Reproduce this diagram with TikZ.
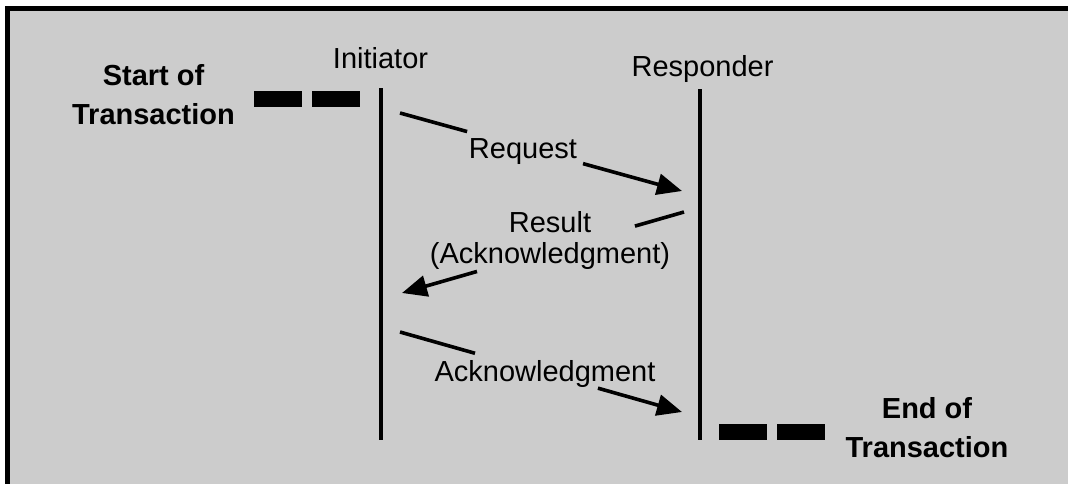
\documentclass[tikz,border=0pt]{standalone}
\usepackage{fontspec}
\setmainfont{Liberation Sans}
\usetikzlibrary{arrows.meta,calc}
\definecolor{panelgray}{HTML}{CCCCCC}
\begin{document}
\begin{tikzpicture}[x=1pt,y=-1pt,
  lifeline/.style={line width=4pt},
  msg/.style={line width=3.6pt},
  msgarrow/.style={msg,-{Triangle[length=25pt,width=21pt]}},
  actor/.style={font=\fontsize{29}{31}\selectfont, inner sep=0pt, anchor=base},
  msglabel/.style={font=\fontsize{29}{31}\selectfont, inner sep=0pt, anchor=base, align=center},
  marker/.style={font=\bfseries\fontsize{29}{39}\selectfont, inner sep=0pt, anchor=base, align=center},
  txdash/.style={line width=16pt, dash pattern=on 48pt off 10pt},
]
\useasboundingbox (0,0) rectangle (1068,483);
% panel with its framed top and left edges
\fill[panelgray] (7.5,8.5) rectangle (1075,490);
\draw[line width=5pt] (7.5,490) -- (7.5,8.5) -- (1075,8.5);

% participants and their lifelines
\node[actor] (initiator) at (380.5,68) {Initiator};
\node[actor] (responder) at (702.5,76) {Responder};
\coordinate (iniTop) at (381,88);
\coordinate (iniBot) at (381,440);
\coordinate (resTop) at (700,89);
\coordinate (resBot) at (700,440);
\draw[lifeline] (iniTop) -- (iniBot);
\draw[lifeline] (resTop) -- (resBot);

% start and end of the transaction (node base = last line's baseline)
\node[marker] (start) at (153.5,124) {Start of\\Transaction};
\node[marker] (finish) at (927,457) {End of\\Transaction};
\coordinate (startA) at (254,99);
\coordinate (startB) at (360,99);
\coordinate (endA) at (719,431.5);
\coordinate (endB) at (826,431.5);
\draw[txdash] (startA) -- (startB);
\draw[txdash] (endA) -- (endB);

% request
\coordinate (reqS) at (400,113);
\coordinate (reqE) at (682,191);
\draw[msg] (reqS) -- ($(reqS)!0.238!(reqE)$);
\draw[msgarrow] ($(reqS)!0.649!(reqE)$) -- (reqE);
\node[msglabel] (reqL) at (523,158) {Request};

% result
\coordinate (resS) at (684,212);
\coordinate (resE) at (402,293);
\draw[msg] (resS) -- ($(resS)!0.174!(resE)$);
\draw[msgarrow] ($(resS)!0.734!(resE)$) -- (resE);
\node[msglabel] (resL) at (550,263) {Result\\(Acknowledgment)};

% acknowledgment
\coordinate (ackS) at (400,332);
\coordinate (ackE) at (682,412);
\draw[msg] (ackS) -- ($(ackS)!0.266!(ackE)$);
\draw[msgarrow] ($(ackS)!0.702!(ackE)$) -- (ackE);
\node[msglabel] (ackL) at (545,381) {Acknowledgment};
\end{tikzpicture}
\end{document}
